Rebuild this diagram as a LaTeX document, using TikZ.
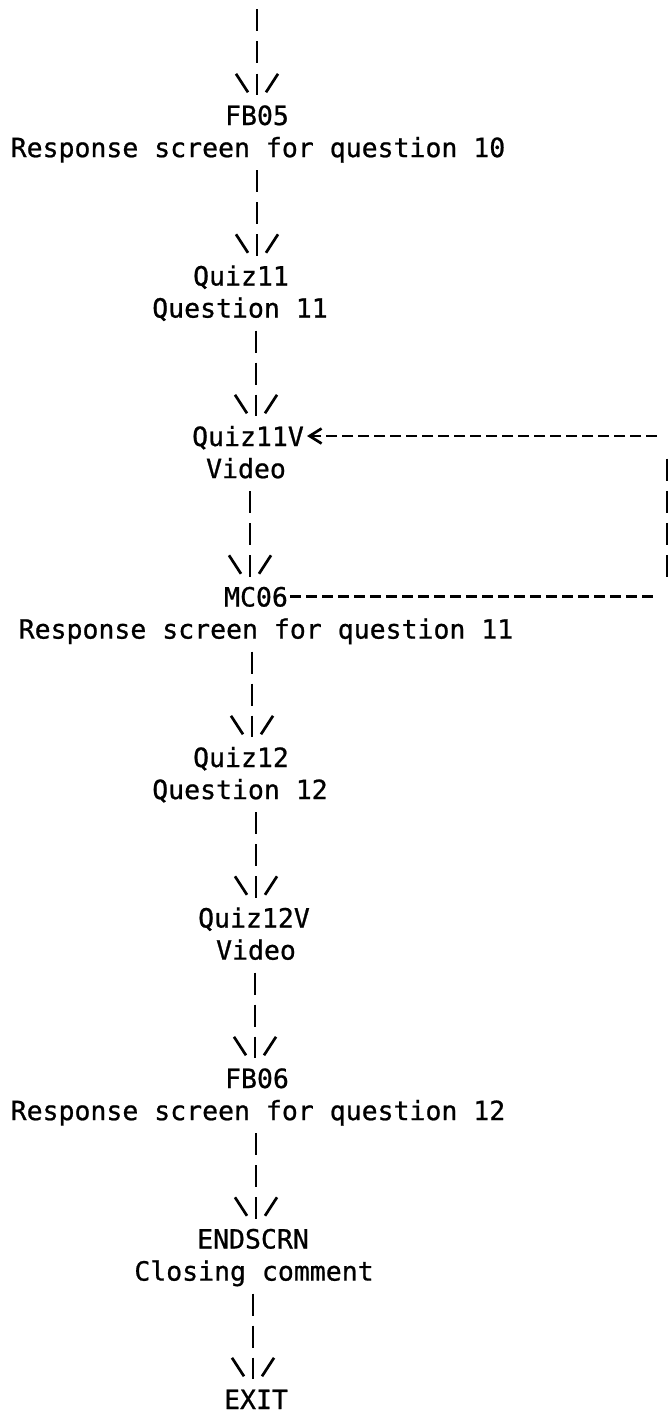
\documentclass[tikz,border=0pt]{standalone}
\usepackage{fontspec}
\usetikzlibrary{arrows.meta}
\newfontfamily\typewriter[FakeBold=0.8]{DejaVu Sans Mono}

% Arrow head in the style of a typed "\|/": two short slanted strokes
% on either side of the shaft, not meeting the shaft.
\pgfdeclarearrow{
  name = Typed,
  setup code = {
    \pgfarrowssettipend{0pt}
    \pgfarrowssetlineend{0pt}
    \pgfarrowssetbackend{-22pt}
    \pgfarrowssetvisualbackend{-22pt}
    \pgfarrowshullpoint{0pt}{0pt}
    \pgfarrowshullpoint{-22pt}{22pt}
    \pgfarrowshullpoint{-22pt}{-22pt}
  },
  drawing code = {
    \pgfsetdash{}{0pt}
    \pgfsetbuttcap
    \pgfpathmoveto{\pgfqpoint{-21.5pt}{21pt}}
    \pgfpathlineto{\pgfqpoint{-3pt}{9pt}}
    \pgfpathmoveto{\pgfqpoint{-21.5pt}{-21pt}}
    \pgfpathlineto{\pgfqpoint{-3pt}{-9pt}}
    \pgfusepathqstroke
  }
}

\begin{document}
\begin{tikzpicture}[x=1pt,y=-1pt,
  txt/.style={inner sep=0pt, text height=29.5pt, text depth=12.7pt,
    anchor=base, font=\typewriter\fontsize{26.5pt}{32pt}\selectfont},
  vlink/.style={line width=2.7pt, dash pattern=on 22pt off 10.1pt, -Typed},
  vbars/.style={line width=2.7pt, dash pattern=on 22pt off 10.1pt},
  hdash/.style={line width=2.7pt, dash pattern=on 11pt off 5pt}
]
\fill[white] (0,0) rectangle (668,1416);
\useasboundingbox (0,0) rectangle (668,1416);

% columns of the vertical links
\coordinate (c250) at (250,0);
\coordinate (c252) at (252,0);
\coordinate (c253) at (253,0);
\coordinate (c255) at (255,0);
\coordinate (c256) at (256,0);
\coordinate (c257) at (257,0);

% screens (one typed line every 32.1pt)
\node[txt] (fb05)     at (257, 125.0) {FB05};
\node[txt] (fb05d)    at (258, 157.1) {Response screen for question 10};
\node[txt] (quiz11)   at (241, 285.5) {Quiz11};
\node[txt] (quiz11d)  at (240, 317.6) {Question 11};
\node[txt] (quiz11v)  at (248, 446.0) {Quiz11V};
\node[txt] (quiz11vd) at (246, 478.1) {Video};
\node[txt] (mc06)     at (256, 606.5) {MC06};
\node[txt] (mc06d)    at (266, 638.6) {Response screen for question 11};
\node[txt] (quiz12)   at (241, 767.0) {Quiz12};
\node[txt] (quiz12d)  at (240, 799.1) {Question 12};
\node[txt] (quiz12v)  at (254, 927.5) {Quiz12V};
\node[txt] (quiz12vd) at (256, 959.6) {Video};
\node[txt] (fb06)     at (257,1088.0) {FB06};
\node[txt] (fb06d)    at (258,1120.1) {Response screen for question 12};
\node[txt] (endscrn)  at (253,1248.5) {ENDSCRN};
\node[txt] (endscrnd) at (254,1280.6) {Closing comment};
\node[txt, text depth=0pt] (exit) at (256,1409.0) {EXIT};

% flow from the previous screen
\coordinate (entry) at (257, 9.3);
\draw[vlink] (entry) -- (fb05.north -| c257);

% main flow
\draw[vlink] (fb05d.south -| c257)    -- (quiz11.north -| c257);
\draw[vlink] (quiz11d.south -| c256)  -- (quiz11v.north -| c256);
\draw[vlink] (quiz11vd.south -| c250) -- (mc06.north -| c250);
\draw[vlink] (mc06d.south -| c252)    -- (quiz12.north -| c252);
\draw[vlink] (quiz12d.south -| c256)  -- (quiz12v.north -| c256);
\draw[vlink] (quiz12vd.south -| c255) -- (fb06.north -| c255);
\draw[vlink] (fb06d.south -| c256)    -- (endscrn.north -| c256);
\draw[vlink] (endscrnd.south -| c253) -- (exit.north -| c253);

% loop back from MC06 to the video
\coordinate (loopb) at (657, 596.5);
\coordinate (loopr1) at (667, 458.7);
\coordinate (loopr2) at (667, 577.0);
\coordinate (loopt) at (657, 436);
\draw[hdash, dash phase=14pt] (mc06.east |- loopb) -- (loopb);
\draw[vbars] (loopr1) -- (loopr2);
\draw[hdash, -{Straight Barb[length=12pt, width=15pt]}]
  (loopt) -- ([xshift=3pt]quiz11v.east |- loopt);
\end{tikzpicture}
\end{document}
